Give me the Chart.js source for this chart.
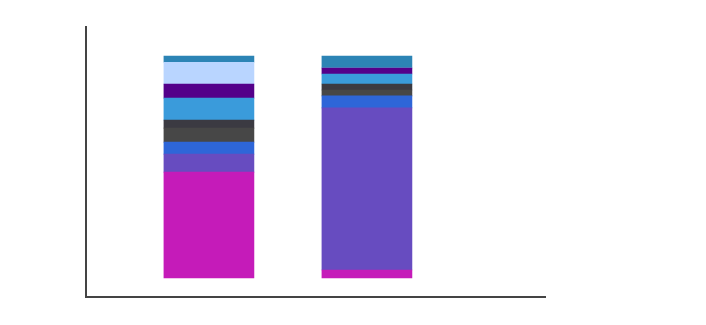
<!DOCTYPE html>
<html>
<head>
<meta charset="utf-8">
<script src="https://cdn.jsdelivr.net/npm/chart.js@4/dist/chart.umd.min.js"></script>
<style>
  html, body { margin: 0; padding: 0; background: #fff; }
  #wrap { width: 706px; height: 325px; }
</style>
</head>
<body>
<div id="wrap"><canvas id="chart" width="706" height="325"></canvas></div>
<script>
// bar positions (x) and stacked shares, bottom segment first
const barPositions = [0, 1];
const seriesNames = ['A', 'B', 'C', 'D', 'E', 'F', 'G', 'H', 'I'];
const seriesColors = ['#c51bb9', '#674cc0', '#2e66d8', '#474747', '#3b3a42', '#3a9bdb', '#54008a', '#b9d5ff', '#2c84b5'];
const seriesA = [47.7, 3.6];
const seriesB = [8.1, 73.0];
const seriesC = [5.4, 5.4];
const seriesD = [6.3, 2.7];
const seriesE = [3.6, 2.7];
const seriesF = [9.9, 4.5];
const seriesG = [6.3, 2.7];
const seriesH = [9.9, 0];
const seriesI = [2.8, 5.4];
const allSeries = [seriesA, seriesB, seriesC, seriesD, seriesE, seriesF, seriesG, seriesH, seriesI];

const datasets = allSeries.map((vals, i) => ({
    label: seriesNames[i],
    data: vals.map((v, j) => ({ x: barPositions[j], y: v })),
    backgroundColor: seriesColors[i],
    borderWidth: 0,
    barThickness: 90
}));

new Chart(document.getElementById('chart').getContext('2d'), {
    type: 'bar',
    data: { datasets: datasets },
    options: {
        responsive: false,
        animation: false,
        layout: { padding: { left: 86, top: 27, right: 161, bottom: 28 } },
        plugins: { legend: { display: false }, tooltip: { enabled: false } },
        scales: {
            x: {
                type: 'linear',
                stacked: true,
                min: -0.778,
                max: 2.127,
                offset: false,
                grid: { display: false, drawTicks: false },
                ticks: { display: false },
                border: { display: true, color: '#444444', width: 2 }
            },
            y: {
                stacked: true,
                min: -8.56,
                max: 113.06,
                grid: { display: false, drawTicks: false },
                ticks: { display: false },
                border: { display: true, color: '#444444', width: 2 }
            }
        }
    }
});
</script>
</body>
</html>
